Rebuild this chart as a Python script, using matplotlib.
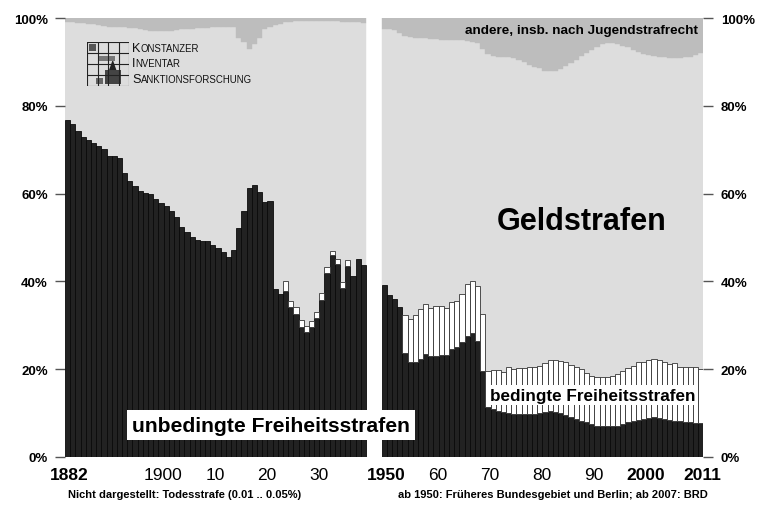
import numpy as np
import matplotlib
matplotlib.use('Agg')
import matplotlib.pyplot as plt
from matplotlib import font_manager
from matplotlib.offsetbox import TextArea, HPacker, VPacker, AnnotationBbox
from matplotlib.patches import Rectangle, Polygon

# ---- Daten (Anteile in %) ----
years_a = list(range(1882, 1940))
years_b = list(range(1950, 2012))

# unbedingte Freiheitsstrafen
unb_a = [76.8, 75.8, 74.3, 73.0, 72.3, 71.5, 70.8, 70.2, 68.6, 68.5,
         68.2, 64.6, 62.9, 61.7, 60.6, 60.1, 59.8, 58.8, 57.8, 57.2,
         56.0, 54.7, 52.5, 51.3, 50.2, 49.4, 49.3, 49.1, 48.2, 47.7,
         46.6, 45.6, 47.2, 52.2, 56.0, 61.3, 62.0, 60.3, 58.1, 58.4,
         38.3, 37.1, 37.9, 34.1, 32.6, 29.6, 28.5, 29.6, 31.7, 35.8,
         41.8, 45.9, 44.0, 38.5, 43.4, 41.3, 45.1, 43.8]
unb_b = [39.2, 36.9, 36.1, 34.2, 23.6, 21.7, 21.6, 22.3, 23.4, 22.9,
         23.1, 23.2, 23.2, 24.6, 25.1, 26.1, 27.6, 28.2, 26.5, 19.5,
         11.3, 10.9, 10.5, 10.2, 10.0, 9.8, 9.7, 9.7, 9.7, 9.7,
         10.0, 10.2, 10.5, 10.3, 10.0, 9.6, 9.0, 8.7, 8.3, 7.9,
         7.5, 7.1, 7.0, 7.0, 7.0, 7.1, 7.5, 7.9, 8.1, 8.5,
         8.7, 8.9, 9.0, 8.9, 8.7, 8.5, 8.3, 8.1, 7.9, 7.9,
         7.8, 7.8]

# bedingte Freiheitsstrafen
bed_a = [0] * 42 + [2.1, 1.5, 1.5, 1.5, 1.4, 1.3, 1.4, 1.5, 1.4, 1.1,
                    1.1, 1.4, 1.5, 0, 0, 0]
bed_b = [0, 0, 0, 0, 8.7, 9.7, 10.7, 11.3, 11.4, 11.0,
         11.4, 11.3, 10.7, 10.6, 10.5, 11.1, 11.9, 12.0, 12.4, 13.1,
         8.4, 8.9, 9.3, 9.1, 10.4, 10.2, 10.5, 10.5, 10.9, 10.9,
         10.7, 11.1, 11.7, 11.8, 11.9, 12.0, 11.9, 11.9, 11.7, 11.2,
         10.9, 11.1, 11.2, 11.2, 11.5, 11.9, 12.1, 12.4, 12.7, 13.1,
         13.0, 13.1, 13.3, 13.2, 13.0, 12.6, 13.1, 12.5, 12.7, 12.7,
         12.6, 12.2]

# andere, insb. nach Jugendstrafrecht
and_a = [1.0, 1.0, 1.1, 1.2, 1.3, 1.4, 1.6, 1.8, 2.0, 2.1,
         2.1, 2.1, 2.2, 2.3, 2.5, 2.7, 2.9, 3.0, 3.0, 3.0,
         2.9, 2.8, 2.6, 2.5, 2.4, 2.3, 2.2, 2.2, 2.1, 2.0,
         2.0, 2.0, 2.1, 4.5, 5.5, 7.0, 6.0, 4.5, 2.5, 2.0,
         1.6, 1.3, 1.0, 0.8, 0.7, 0.6, 0.6, 0.6, 0.6, 0.6,
         0.6, 0.6, 0.7, 0.8, 0.9, 1.0, 1.0, 1.1]
and_b = [2.5, 2.6, 2.8, 3.5, 4.2, 4.4, 4.5, 4.5, 4.6, 4.7,
         4.8, 4.9, 5.0, 5.0, 5.1, 5.1, 5.2, 5.5, 5.6, 7.0,
         8.2, 8.6, 8.8, 8.8, 8.8, 9.0, 9.5, 10.0, 10.8, 11.2,
         11.5, 12.0, 12.1, 12.0, 11.6, 11.0, 10.2, 9.5, 8.6, 7.9,
         7.3, 6.6, 6.0, 5.7, 5.7, 6.0, 6.3, 6.7, 7.2, 7.7,
         8.1, 8.4, 8.7, 8.9, 8.9, 9.0, 9.0, 9.0, 8.9, 8.8,
         8.4, 7.9]

tick_years = [1882, 1900, 1910, 1920, 1930, 1950, 1960, 1970, 1980, 1990, 2000, 2011]
tick_texts = ['1882', '1900', '10', '20', '30', '1950', '60', '70', '80', '90', '2000', '2011']
tick_bold = [True, False, False, False, False, True, False, False, False, False, True, True]

# ---- Schriften ----
names = {f.name for f in font_manager.fontManager.ttflist}
plt.rcParams['font.family'] = ['Liberation Sans', 'DejaVu Sans']
if 'Liberation Sans Narrow' in names:
    NARROW = ['Liberation Sans Narrow', 'Liberation Sans']
    xl_size, foot_size = 15.8, 9.6
else:
    NARROW = ['Liberation Sans', 'DejaVu Sans']
    xl_size, foot_size = 12.5, 8.0

W, H = 758, 510


def px(x, y):
    return x / W, 1 - y / H


def pos_of(year):
    return year - 1882 if year < 1940 else year - 1950 + 61


fig = plt.figure(figsize=(W / 100, H / 100), dpi=100)
ax = fig.add_axes([65 / W, 52 / H, 638.3 / W, 439 / H])

for years, unb, bed, andr in ((years_a, unb_a, bed_a, and_a),
                              (years_b, unb_b, bed_b, and_b)):
    pos = np.array([pos_of(y) for y in years])
    unb = np.array(unb)
    bed = np.array(bed)
    andr = np.array(andr)
    geld = 100 - unb - bed - andr
    ax.bar(pos, geld, bottom=unb + bed, width=1.0, color='#dddddd',
           edgecolor='#dddddd', linewidth=0.3, zorder=1)
    ax.bar(pos, andr, bottom=unb + bed + geld, width=1.0, color='#bdbdbd',
           edgecolor='#bdbdbd', linewidth=0.3, zorder=1)
    ax.bar(pos, unb, width=1.0, color='#222222', edgecolor='#0a0a0a',
           linewidth=0.6, zorder=3)
    m = bed > 0
    ax.bar(pos[m], bed[m], bottom=unb[m], width=1.0, color='white',
           edgecolor='#333333', linewidth=0.6, zorder=3)

ax.set_xlim(-0.5, 122.5)
ax.set_ylim(0, 100)
for s in ax.spines.values():
    s.set_visible(False)
ax.set_xticks([])
ax.set_yticks(range(0, 101, 20))
ax.set_yticklabels([f'{v}%' for v in range(0, 101, 20)], fontweight='bold', fontsize=9.5)
ax.tick_params(axis='y', length=7.5, width=1.0, color='#555555', pad=5,
               left=True, right=True, labelleft=True, labelright=True)

# Jahresbeschriftung
for yr, txt, b in zip(tick_years, tick_texts, tick_bold):
    ax.text(pos_of(yr) + 0.4, -4.0, txt, ha='center', va='center',
            family=NARROW, fontsize=xl_size, fontweight='bold' if b else 'normal')

# Flaechenbeschriftungen
fig.text(*px(582, 222), 'Geldstrafen', ha='center', va='center',
         fontsize=22, fontweight='bold')
fig.text(*px(271, 426), 'unbedingte Freiheitsstrafen', ha='center', va='center',
         fontsize=15.2, fontweight='bold', zorder=5,
         bbox=dict(boxstyle='square,pad=0.24', fc='white', ec='none'))
fig.text(*px(593, 396), 'bedingte Freiheitsstrafen', ha='center', va='center',
         fontsize=12.3, fontweight='bold', zorder=5,
         bbox=dict(boxstyle='square,pad=0.15', fc='white', ec='none'))
fig.text(*px(698, 31), 'andere, insb. nach Jugendstrafrecht', ha='right', va='center',
         fontsize=9.7, fontweight='bold')

# Fusszeilen
fig.text(*px(185, 495), 'Nicht dargestellt: Todesstrafe (0.01 .. 0.05%)',
         ha='center', va='center', family=NARROW, fontsize=foot_size, fontweight='bold')
fig.text(*px(553, 495), 'ab 1950: Früheres Bundesgebiet und Berlin; ab 2007: BRD',
         ha='center', va='center', family=NARROW, fontsize=foot_size, fontweight='bold')

# ---- Logo KIS ----
lax = fig.add_axes([87 / W, 1 - 87 / H, 42 / W, 44 / H])
lax.set_xlim(0, 4)
lax.set_ylim(0, 4)
lax.axis('off')
for k in range(5):
    lax.plot([k, k], [0, 4], color='#222222', lw=0.8)
    lax.plot([0, 4], [k, k], color='#222222', lw=0.8)
lax.add_patch(Rectangle((1.7, 0.15), 1.5, 1.3, fc='#444444', ec='none'))
lax.add_patch(Polygon([(2.1, 1.45), (2.45, 2.4), (2.8, 1.45)], fc='#222222', ec='none'))
lax.add_patch(Rectangle((0.9, 0.15), 0.6, 0.6, fc='#666666', ec='none'))
lax.add_patch(Rectangle((0.15, 3.2), 0.7, 0.65, fc='#555555', ec='none'))
lax.add_patch(Rectangle((1.1, 2.3), 1.6, 0.4, fc='#777777', ec='none'))


def small_caps(word):
    big = TextArea(word[0], textprops=dict(size=9.2, color='#111111'))
    rest = TextArea(word[1:].upper(), textprops=dict(size=6.9, color='#111111'))
    return HPacker(children=[big, rest], align='baseline', pad=0, sep=0)


logo = VPacker(children=[small_caps(w) for w in ('Konstanzer', 'Inventar', 'Sanktionsforschung')],
               align='left', pad=0, sep=2.4)
fig.add_artist(AnnotationBbox(logo, (132, H - 43), xycoords='figure pixels',
                              box_alignment=(0, 1), frameon=False))

fig.savefig('out.png', dpi=100)
